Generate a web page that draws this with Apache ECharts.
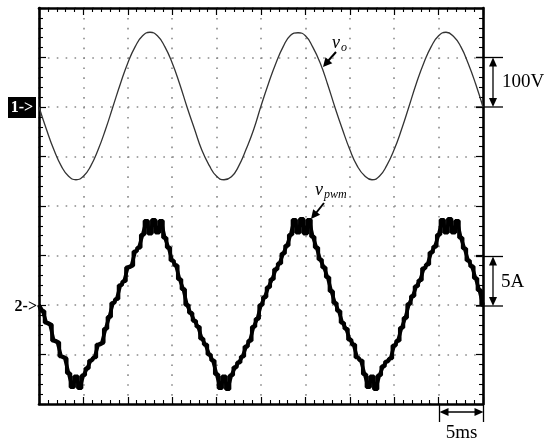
<!DOCTYPE html>
<html>
<head>
<meta charset="utf-8">
<script src="https://cdn.jsdelivr.net/npm/echarts/dist/echarts.min.js"></script>
<style>
  html, body { margin: 0; padding: 0; background: #fff; }
  #chart { width: 550px; height: 446px; }
</style>
</head>
<body>
<div id="chart"></div>
<script>
// scope screen: 10 div x 5 ms, ch1 100 V/div, ch2 5 A/div
const timeMin = 0
const timeMax = 50
const timeDiv = 5

// v_o, one sample every 5/6 ms
const voltageStep = 5 / 6
const voltage = [
  0, -45, -86, -119, -140, -147, -140, -119, -86, -45,
  1, 47, 89, 122, 144, 151, 144, 122, 89, 47,
  0, -44, -87, -118, -140, -147, -141, -119, -85, -46,
  2, 47, 88, 122, 145, 150, 144, 121, 89, 46,
  -1, -45, -86, -119, -139, -147, -140, -118, -86, -45,
  1, 48, 89, 122, 144, 151, 143, 122, 88, 47,
  0
]

// current trace (stepped pwm), one sample every 5/12 ms
const currentStep = 5 / 12
const current = [
  0.0, -0.6, -1.8, -2.0, -3.6, -3.8, -5.2, -5.4, -6.9, -8.3,
  -7.2, -8.4, -7.1, -6.4, -5.6, -5.3, -4.0, -3.8, -2.4, -1.2,
  0.2, 0.6, 2.0, 2.4, 3.8, 4.0, 5.4, 5.8, 7.1, 8.5,
  7.2, 8.6, 7.3, 8.5, 6.8, 5.8, 4.5, 4.0, 2.6, 1.6,
  0.0, -0.8, -1.6, -2.2, -3.4, -4.0, -5.0, -5.6, -7.0, -8.4,
  -7.2, -8.5, -7.1, -6.3, -5.8, -5.2, -4.2, -3.6, -2.2, -1.4,
  0.0, 0.8, 1.8, 2.6, 3.6, 4.2, 5.2, 6.0, 7.1, 8.6,
  7.3, 8.7, 7.2, 8.6, 6.9, 5.8, 4.6, 3.8, 2.8, 1.4,
  0.2, -0.6, -1.8, -2.4, -3.5, -4.0, -5.3, -5.6, -7.0, -8.3,
  -7.2, -8.5, -7.1, -6.2, -5.7, -5.4, -4.1, -3.6, -2.3, -1.3,
  0.1, 0.9, 1.9, 2.5, 3.7, 4.1, 5.3, 5.9, 7.1, 8.6,
  7.3, 8.7, 7.3, 8.5, 6.8, 5.7, 4.5, 3.9, 2.7, 1.5,
  0.0
]

// channel ranges: reference markers sit 2 div from top (ch1) and 2 div from bottom (ch2)
const voltageRange = [-600, 200, 100]
const currentRange = [-10, 30, 5]

const serif = '"Liberation Serif", "Times New Roman", serif'

function toPairs(values, step) {
  return values.map((v, i) => [i * step, v])
}

function frameAxis(position, min, max, interval, dots) {
  return {
    type: 'value',
    position: position,
    min: min,
    max: max,
    interval: interval,
    axisLine: { show: true, onZero: false, lineStyle: { color: '#000', width: 2.6 } },
    axisTick: { show: true, inside: true, length: 7, lineStyle: { color: '#000', width: 1.2 } },
    minorTick: { show: true, splitNumber: 5, length: 4, lineStyle: { color: '#000', width: 1.1 } },
    axisLabel: { show: false },
    splitLine: dots
      ? { show: true, lineStyle: { color: '#8a8a8a', width: 1.6, type: dots } }
      : { show: false }
  }
}

function seg(x1, y1, x2, y2, w) {
  return {
    type: 'line',
    silent: true,
    shape: { x1: x1, y1: y1, x2: x2, y2: y2 },
    style: { stroke: '#000', lineWidth: w || 1.3 }
  }
}

function head(tx, ty, fx, fy, len, hw) {
  const dx = tx - fx
  const dy = ty - fy
  const d = Math.sqrt(dx * dx + dy * dy)
  const ux = dx / d
  const uy = dy / d
  const bx = tx - ux * len
  const by = ty - uy * len
  return {
    type: 'polygon',
    silent: true,
    shape: { points: [[tx, ty], [bx - uy * hw, by + ux * hw], [bx + uy * hw, by - ux * hw]] },
    style: { fill: '#000' }
  }
}

function label(x, y, text, font, align, color) {
  return {
    type: 'text',
    silent: true,
    x: x,
    y: y,
    style: {
      text: text,
      font: font,
      fill: color || '#000',
      textAlign: align || 'left',
      textVerticalAlign: 'middle'
    }
  }
}

const chart = echarts.init(document.getElementById('chart'))

const currentData = toPairs(current, currentStep)

chart.setOption({
  animation: false,
  backgroundColor: '#fff',
  grid: { left: 39, right: 67, top: 8, bottom: 42 },
  xAxis: [
    frameAxis('bottom', timeMin, timeMax, timeDiv, [1.6, 8.3]),
    frameAxis('top', timeMin, timeMax, timeDiv, null)
  ],
  yAxis: [
    frameAxis('left', voltageRange[0], voltageRange[1], voltageRange[2], [1.6, 7.28]),
    frameAxis('right', currentRange[0], currentRange[1], currentRange[2], null)
  ],
  series: [
    {
      name: 'vo',
      type: 'line',
      xAxisIndex: 0,
      yAxisIndex: 0,
      smooth: true,
      symbol: 'none',
      lineStyle: { color: '#333', width: 1.3 },
      data: toPairs(voltage, voltageStep)
    },
    // the current is drawn twice (stepped + direct) so the switching band reads as solid
    {
      name: 'ipwm',
      type: 'line',
      xAxisIndex: 0,
      yAxisIndex: 1,
      step: 'middle',
      symbol: 'none',
      lineStyle: { color: '#000', width: 3.6 },
      data: currentData
    },
    {
      name: 'ipwm band',
      type: 'line',
      xAxisIndex: 0,
      yAxisIndex: 1,
      symbol: 'none',
      lineStyle: { color: '#000', width: 3.6 },
      data: currentData
    }
  ],
  graphic: [
    // channel markers
    { type: 'rect', silent: true, shape: { x: 8, y: 97, width: 28, height: 21 }, style: { fill: '#000' } },
    label(22, 107.5, '1->', 'bold 16px ' + serif, 'center', '#fff'),
    label(37, 307, '2->', 'bold 16px ' + serif, 'right'),

    // 100V scale
    seg(476, 57.5, 503, 57.5),
    seg(476, 107, 503, 107),
    seg(493, 62, 493, 102),
    head(493, 57.5, 493, 70, 9, 4),
    head(493, 107, 493, 95, 9, 4),
    label(502, 82, '100V', '19px ' + serif),

    // 5A scale
    seg(476, 256.5, 503, 256.5),
    seg(476, 306, 503, 306),
    seg(493, 261, 493, 301),
    head(493, 256.5, 493, 270, 9, 4),
    head(493, 306, 493, 294, 9, 4),
    label(501, 282, '5A', '19px ' + serif),

    // 5ms scale
    seg(439.5, 404, 439.5, 422),
    seg(483.5, 404, 483.5, 422),
    seg(444, 412, 479, 412),
    head(439.5, 412, 452, 412, 9, 4),
    head(483.5, 412, 471, 412, 9, 4),
    label(461.5, 433, '5ms', '19px ' + serif, 'center'),

    // trace labels
    label(332, 43, 'v', 'italic 18px ' + serif),
    label(341, 48, 'o', 'italic 12px ' + serif),
    seg(336, 52, 328, 61, 2),
    head(323, 67, 336, 52, 9, 4.5),
    label(315, 190, 'v', 'italic 18px ' + serif),
    label(324, 195, 'pwm', 'italic 12px ' + serif),
    seg(324, 203, 316, 213, 2),
    head(311, 219, 324, 203, 9, 4.5)
  ]
})
</script>
</body>
</html>
